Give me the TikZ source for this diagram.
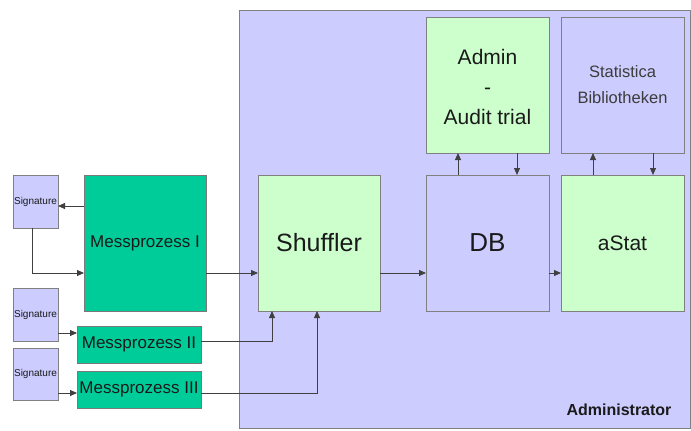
\documentclass[tikz,border=0pt]{standalone}
\usepackage{fontspec}
\setmainfont{Liberation Sans}
\usetikzlibrary{arrows.meta}
\definecolor{lav}{HTML}{CCCCFF}
\definecolor{mint}{HTML}{CCFFCC}
\definecolor{teal2}{HTML}{00CC99}
\definecolor{edge}{HTML}{808080}
\definecolor{wire}{HTML}{404040}
\definecolor{ink}{HTML}{1A1A1A}
\begin{document}
\begin{tikzpicture}[x=1pt,y=-1pt,
  box/.style={draw=edge,line width=0.9pt,inner sep=0pt,outer sep=0pt,
    text=ink,align=center},
  lavbox/.style={box,fill=lav},
  mintbox/.style={box,fill=mint},
  tealbox/.style={box,fill=teal2,draw=wire!70},
  arr/.style={draw=wire,line width=0.8pt,-{Triangle[length=7pt,width=6pt]}}]
\useasboundingbox (0,0) rectangle (691,431);

% administrator area
\node[lavbox,minimum width=451pt,minimum height=418pt] (adm) at (464.5,219) {};
\node[font=\bfseries\fontsize{16}{18}\selectfont,text=ink] (admlabel) at (619,410) {Administrator};

% left side: signatures and measurement processes
\node[lavbox,minimum width=45pt,minimum height=53pt,font=\fontsize{10}{12}\selectfont] (sig1) at (35.5,201.5) {Signature};
\node[lavbox,minimum width=45pt,minimum height=53pt,font=\fontsize{10}{12}\selectfont] (sig2) at (35.5,314.5) {Signature};
\node[lavbox,minimum width=45pt,minimum height=52pt,font=\fontsize{10}{12}\selectfont] (sig3) at (35.5,374) {Signature};
\node[tealbox,minimum width=122pt,minimum height=136pt,font=\fontsize{17}{20}\selectfont] (mp1) at (145,243) {Messprozess I};
\node[tealbox,minimum width=124pt,minimum height=37pt,font=\fontsize{17}{20}\selectfont] (mp2) at (139,344.5) {Messprozess II};
\node[tealbox,minimum width=124pt,minimum height=37pt,font=\fontsize{17}{20}\selectfont] (mp3) at (139,389.5) {Messprozess III};

% administrator components
\node[mintbox,minimum width=122pt,minimum height=136pt,font=\fontsize{25}{28}\selectfont] (shuf) at (319,243) {Shuffler};
\node[lavbox,minimum width=123pt,minimum height=136pt,font=\fontsize{26}{28}\selectfont] (db) at (487.5,243) {DB};
\node[mintbox,minimum width=123pt,minimum height=136pt,font=\fontsize{21}{24}\selectfont] (astat) at (622.5,243) {aStat};
\node[mintbox,minimum width=123pt,minimum height=136pt,font=\fontsize{21}{30}\selectfont] (audit) at (487.5,85) {};
\node[font=\fontsize{21}{30}\selectfont,text=ink,align=center] (audittext) at (487.5,87) {Admin\\-\\Audit trial};
\node[lavbox,minimum width=123pt,minimum height=136pt,font=\fontsize{16.5}{26}\selectfont,text=ink!85] (lib) at (622.5,85) {Statistica\\Bibliotheken};

% connectors
\draw[arr] ([yshift=-4.5pt]mp1.west |- sig1.east) -- ([yshift=-4.5pt]sig1.east);
\draw[arr] ([xshift=-3.5pt]sig1.south) |- ([yshift=-30pt]mp1.west);
\draw[arr] ([yshift=-30pt]mp1.east) -- ([yshift=-30pt]shuf.west);
\draw[arr] ([yshift=-30pt]shuf.east) -- ([yshift=-30pt]db.west);
\draw[arr] ([yshift=-30pt]db.east) -- ([yshift=-30pt]astat.west);
\draw[arr] ([yshift=-18.5pt]sig2.east) -- ([yshift=-18.5pt]sig2.east -| mp2.west);
\draw[arr] ([yshift=3.5pt]mp2.east) -| ([xshift=-47pt]shuf.south);
\draw[arr] ([yshift=-3.5pt]mp3.west -| sig3.east) -- ([yshift=-3.5pt]mp3.west);
\draw[arr] ([yshift=-3.5pt]mp3.east) -| ([xshift=-2pt]shuf.south);
\draw[arr] ([xshift=-29.5pt]db.north) -- ([xshift=-29.5pt]audit.south);
\draw[arr] ([xshift=29.5pt]audit.south) -- ([xshift=29.5pt]db.north);
\draw[arr] ([xshift=-29.5pt]astat.north) -- ([xshift=-29.5pt]lib.south);
\draw[arr] ([xshift=30.5pt]lib.south) -- ([xshift=30.5pt]astat.north);
\end{tikzpicture}
\end{document}
